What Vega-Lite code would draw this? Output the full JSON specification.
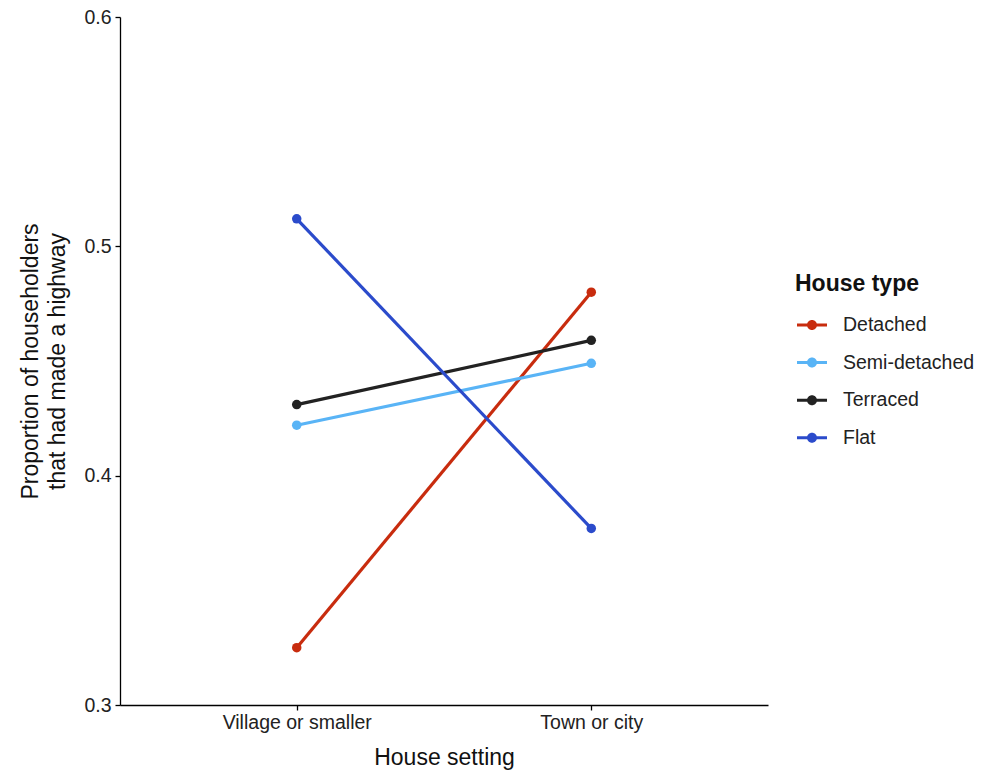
{
  "$schema": "https://vega.github.io/schema/vega-lite/v6.json",
  "width": 648,
  "height": 688,
  "autosize": "none",
  "padding": {"left": 120, "top": 17, "right": 224, "bottom": 66},
  "background": "white",
  "config": {
    "font": "Liberation Sans",
    "view": {"stroke": null},
    "axis": {"domainColor": "#000", "tickColor": "#000", "domainWidth": 1.3, "tickWidth": 1.3, "tickSize": 5, "grid": false, "labelColor": "#222", "titleColor": "#111", "labelFontSize": 19.5, "titleFontSize": 23, "titleFontWeight": "normal"}
  },
  "data": {"values": [
    {"setting": "Village or smaller", "type": "Detached", "p": 0.325},
    {"setting": "Town or city", "type": "Detached", "p": 0.48},
    {"setting": "Village or smaller", "type": "Semi-detached", "p": 0.422},
    {"setting": "Town or city", "type": "Semi-detached", "p": 0.449},
    {"setting": "Village or smaller", "type": "Terraced", "p": 0.431},
    {"setting": "Town or city", "type": "Terraced", "p": 0.459},
    {"setting": "Village or smaller", "type": "Flat", "p": 0.512},
    {"setting": "Town or city", "type": "Flat", "p": 0.377}
  ]},
  "encoding": {
    "x": {"field": "setting", "type": "nominal", "sort": ["Village or smaller", "Town or city"],
      "scale": {"type": "point", "padding": 0.6},
      "axis": {"title": "House setting", "labelAngle": 0, "labelPadding": 3, "titlePadding": 15}},
    "y": {"field": "p", "type": "quantitative", "scale": {"domain": [0.3, 0.6], "nice": false, "zero": false},
      "axis": {"values": [0.3, 0.4, 0.5, 0.6], "format": ".1f", "title": ["Proportion of householders", "that had made a highway"], "titlePadding": 14, "titleLineHeight": 27, "labelPadding": 4}},
    "color": {"field": "type", "type": "nominal",
      "scale": {"domain": ["Detached", "Semi-detached", "Terraced", "Flat"], "range": ["#C82C0E", "#59B4F6", "#222222", "#2B4BCB"]},
      "legend": {"title": "House type", "orient": "none", "legendX": 675, "legendY": 256,
        "titleFontSize": 23, "titleFontWeight": "bold", "titleColor": "#111", "titlePadding": 19,
        "labelFontSize": 19.5, "labelColor": "#222", "labelOffset": 28,
        "symbolType": "M-0.8,-0.15H2.2V0.15H-0.8Z M0.2,0 A0.5,0.5 0 1,1 1.2,0 A0.5,0.5 0 1,1 0.2,0Z",
        "symbolSize": 400, "symbolStrokeWidth": 0, "rowPadding": 17.6,
        "encode": {"symbols": {"update": {"fill": {"scale": "color", "field": "value"}, "fillOpacity": {"value": 1}, "strokeWidth": {"value": 0}}}}}
    },
    "detail": {"field": "type"}
  },
  "layer": [
    {"mark": {"type": "line", "strokeWidth": 3.2}},
    {"mark": {"type": "point", "filled": true, "opacity": 1, "size": 90}}
  ]
}
